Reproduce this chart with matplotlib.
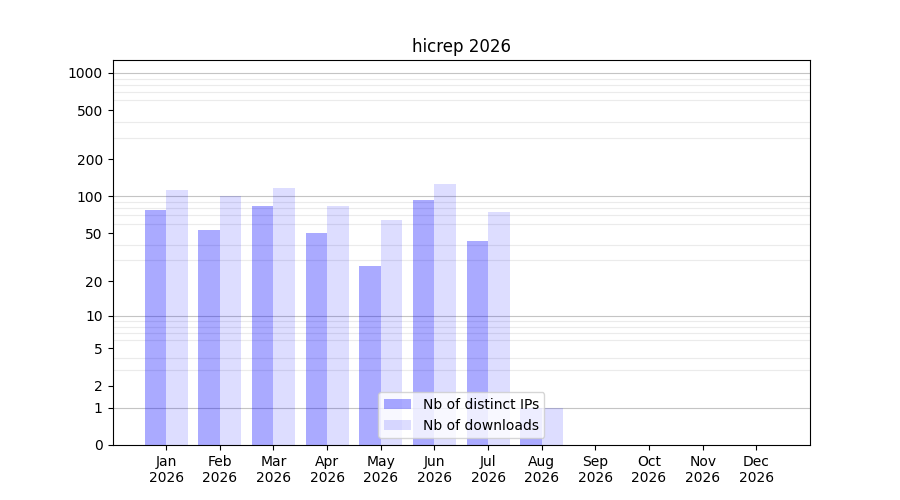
import numpy as np
import matplotlib
matplotlib.use('Agg')
import matplotlib.pyplot as plt
from matplotlib.ticker import FixedLocator, ScalarFormatter

# =========================
# DATA
# =========================
months = ["Jan", "Feb", "Mar", "Apr", "May", "Jun",
          "Jul", "Aug", "Sep", "Oct", "Nov", "Dec"]
year = "2026"
distinct_ips = [78, 53, 83, 50, 27, 93, 43, 1, 0, 0, 0, 0]
downloads = [112, 100, 117, 83, 64, 127, 75, 1, 0, 0, 0, 0]

y_labels = [0, 1, 2, 5, 10, 20, 50, 100, 200, 500, 1000]
decades = [1, 10, 100, 1000]


def fwd(y):
    return np.log10(1 + np.clip(y, 0, None))


def inv(y):
    return 10 ** y - 1


# =========================
# PLOT
# =========================
fig, ax = plt.subplots(figsize=(9, 5), dpi=100)
ax.set_axisbelow(True)

x = np.arange(1, len(months) + 1)
w = 0.4
ax.bar(x - w / 2, distinct_ips, w, color="blue", alpha=1 / 3, linewidth=0,
       label="Nb of distinct IPs", zorder=2)
ax.bar(x + w / 2, downloads, w, color="blue", alpha=0.135, linewidth=0,
       label="Nb of downloads", zorder=2)

ax.set_yscale("function", functions=(fwd, inv))
ax.set_ylim(0, max(downloads) * 10)
ax.set_xlim(0, 13)

ax.yaxis.set_major_locator(FixedLocator(y_labels))
ax.yaxis.set_major_formatter(ScalarFormatter())
minor = [m * d for d in [1, 10, 100] for m in range(2, 10)]
ax.yaxis.set_minor_locator(FixedLocator(minor))
ax.tick_params(axis="y", which="minor", length=0)
ax.grid(True, axis="y", which="minor", color="#ebebeb", linewidth=0.8)
for d in decades:
    ax.axhline(d, color="#c4c4c4", linewidth=0.8, zorder=0.6)

ax.set_xticks(x)
ax.set_xticklabels([f"{m}\n{year}" for m in months])

ax.set_title("hicrep 2026")
ax.legend(loc="lower center")

fig.savefig("out.png")
